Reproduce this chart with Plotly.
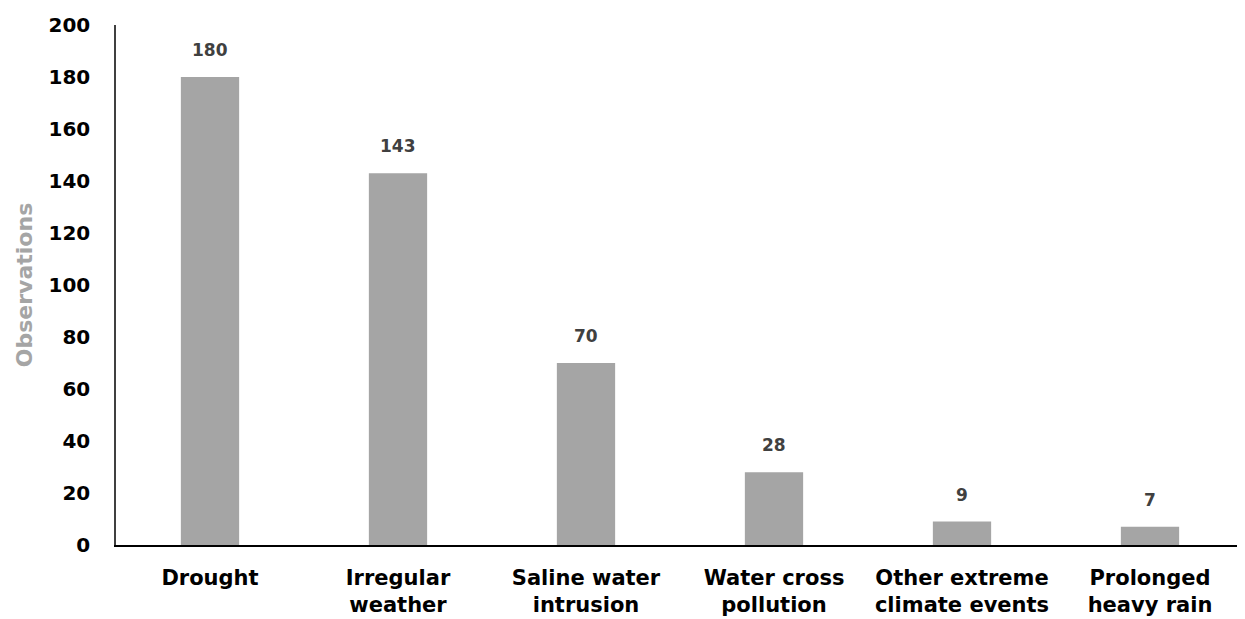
import plotly.graph_objects as go

categories = ["Drought", "Irregular<br>weather", "Saline water<br>intrusion",
              "Water cross<br>pollution", "Other extreme<br>climate events",
              "Prolonged<br>heavy rain"]
observations = [180, 143, 70, 28, 9, 7]
y_ticks = [0, 20, 40, 60, 80, 100, 120, 140, 160, 180, 200]

FONT = "Verdana, DejaVu Sans, sans-serif"

fig = go.Figure()
fig.add_trace(go.Bar(
    x=categories, y=observations,
    marker=dict(color="#A5A5A5", line=dict(width=0)),
    width=0.31,
))
for c, v in zip(categories, observations):
    fig.add_annotation(x=c, y=v, text=f"<b>{v}</b>", showarrow=False,
                       yshift=27, font=dict(family=FONT, size=17, color="#404040"))

fig.update_layout(
    width=1245, height=619,
    margin=dict(l=108, r=9, t=17, b=82),
    plot_bgcolor="white", paper_bgcolor="white",
    showlegend=False,
    font=dict(family=FONT, color="black"),
)
fig.update_xaxes(
    showline=True, linecolor="black", linewidth=1.5, automargin=False,
    showgrid=False, ticks="", tickfont=dict(family=FONT, size=21, color="black", weight="bold"),
    ticklabelstandoff=13,
)
fig.update_yaxes(
    range=[0, 200], tickvals=y_ticks, automargin=False,
    showline=True, linecolor="#404040", linewidth=1.5,
    showgrid=False, zeroline=False, ticks="",
    tickfont=dict(family=FONT, size=20, color="black", weight="bold"),
    ticklabelstandoff=20, ticklabeloverflow="allow",
    title=dict(text="<b>Observations</b>", font=dict(family=FONT, size=22, color="#A5A5A5"), standoff=10),
)
fig.write_html("out.html")
